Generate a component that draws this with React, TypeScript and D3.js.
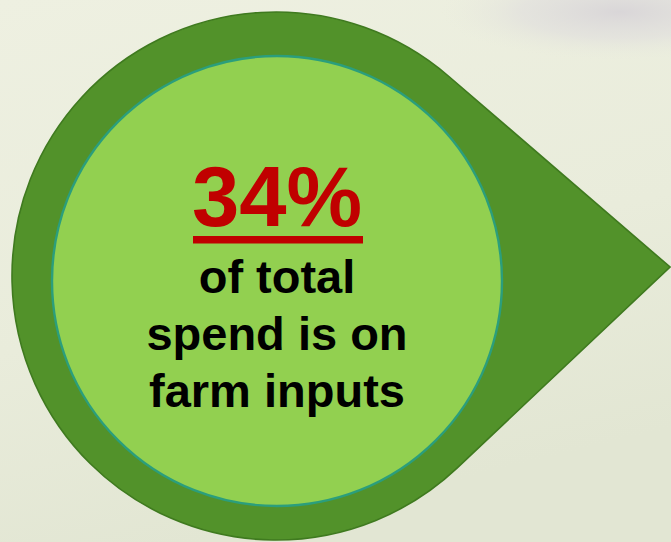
import React from "react";
import * as d3 from "d3";

const percentValue = [34];
const captionLines = ["of total", "spend is on", "farm inputs"];
const width = 671;
const height = 542;

export default function App() {
  const outerCx = 276;
  const outerCy = 276;
  const outerR = 264;
  const tip: [number, number] = [670, 267];

  const dx = tip[0] - outerCx;
  const dy = tip[1] - outerCy;
  const dist = Math.sqrt(dx * dx + dy * dy);
  const theta = Math.atan2(dy, dx);
  const alpha = Math.acos(outerR / dist);
  const upper: [number, number] = [
    outerCx + outerR * Math.cos(theta - alpha),
    outerCy + outerR * Math.sin(theta - alpha),
  ];
  const lower: [number, number] = [
    outerCx + outerR * Math.cos(theta + alpha),
    outerCy + outerR * Math.sin(theta + alpha),
  ];
  const p = d3.path();
  p.moveTo(upper[0], upper[1]);
  p.lineTo(tip[0], tip[1]);
  p.lineTo(lower[0], lower[1]);
  p.arc(outerCx, outerCy, outerR, theta + alpha, theta - alpha + 2 * Math.PI, false);
  p.closePath();

  const innerCx = 277;
  const innerCy = 281;
  const innerR = 225;

  const textX = 277;
  const fmt = d3.format("d");
  const percentText = fmt(percentValue[0]) + "%";
  const lineY = d3.scaleLinear().domain([0, 1]).range([293, 350]);

  const font = "'Liberation Sans', Arial, Helvetica, sans-serif";

  return (
    <svg
      width={width}
      height={height}
      style={{ position: "fixed", left: 0, top: 0, display: "block" }}
    >
      <defs>
        <linearGradient id="bg" x1="0" y1="0" x2="0.3" y2="1">
          <stop offset="0" stopColor="#eef0e1" />
          <stop offset="0.6" stopColor="#e9ecdb" />
          <stop offset="1" stopColor="#e2e6d3" />
        </linearGradient>
        <radialGradient
          id="blob"
          cx="620"
          cy="12"
          r="120"
          gradientUnits="userSpaceOnUse"
          gradientTransform="translate(620 12) scale(1.5 0.4) translate(-620 -12)"
        >
          <stop offset="0" stopColor="#d9d6d8" stopOpacity="1" />
          <stop offset="0.55" stopColor="#dfdddd" stopOpacity="0.6" />
          <stop offset="1" stopColor="#e8eadc" stopOpacity="0" />
        </radialGradient>
      </defs>
      <rect x={0} y={0} width={width} height={height} fill="url(#bg)" />
      <rect x={0} y={0} width={width} height={height} fill="url(#blob)" />
      <path d={p.toString()} fill="#52922a" stroke="#3f7a1f" strokeWidth={1.6} />
      <circle cx={innerCx} cy={innerCy} r={innerR} fill="#92d050" stroke="#2b9e7c" strokeWidth={2.4} />
      <text
        x={textX}
        y={226}
        textAnchor="middle"
        fontFamily={font}
        fontWeight="bold"
        fontSize={85}
        fill="#c00000"
      >
        {percentText}
      </text>
      <rect x={193} y={236} width={170} height={7.5} fill="#c00000" />
      {captionLines.map((line, i) => (
        <text
          key={i}
          x={textX}
          y={lineY(i)}
          textAnchor="middle"
          fontFamily={font}
          fontWeight="bold"
          fontSize={47}
          fill="#000000"
        >
          {line}
        </text>
      ))}
    </svg>
  );
}
